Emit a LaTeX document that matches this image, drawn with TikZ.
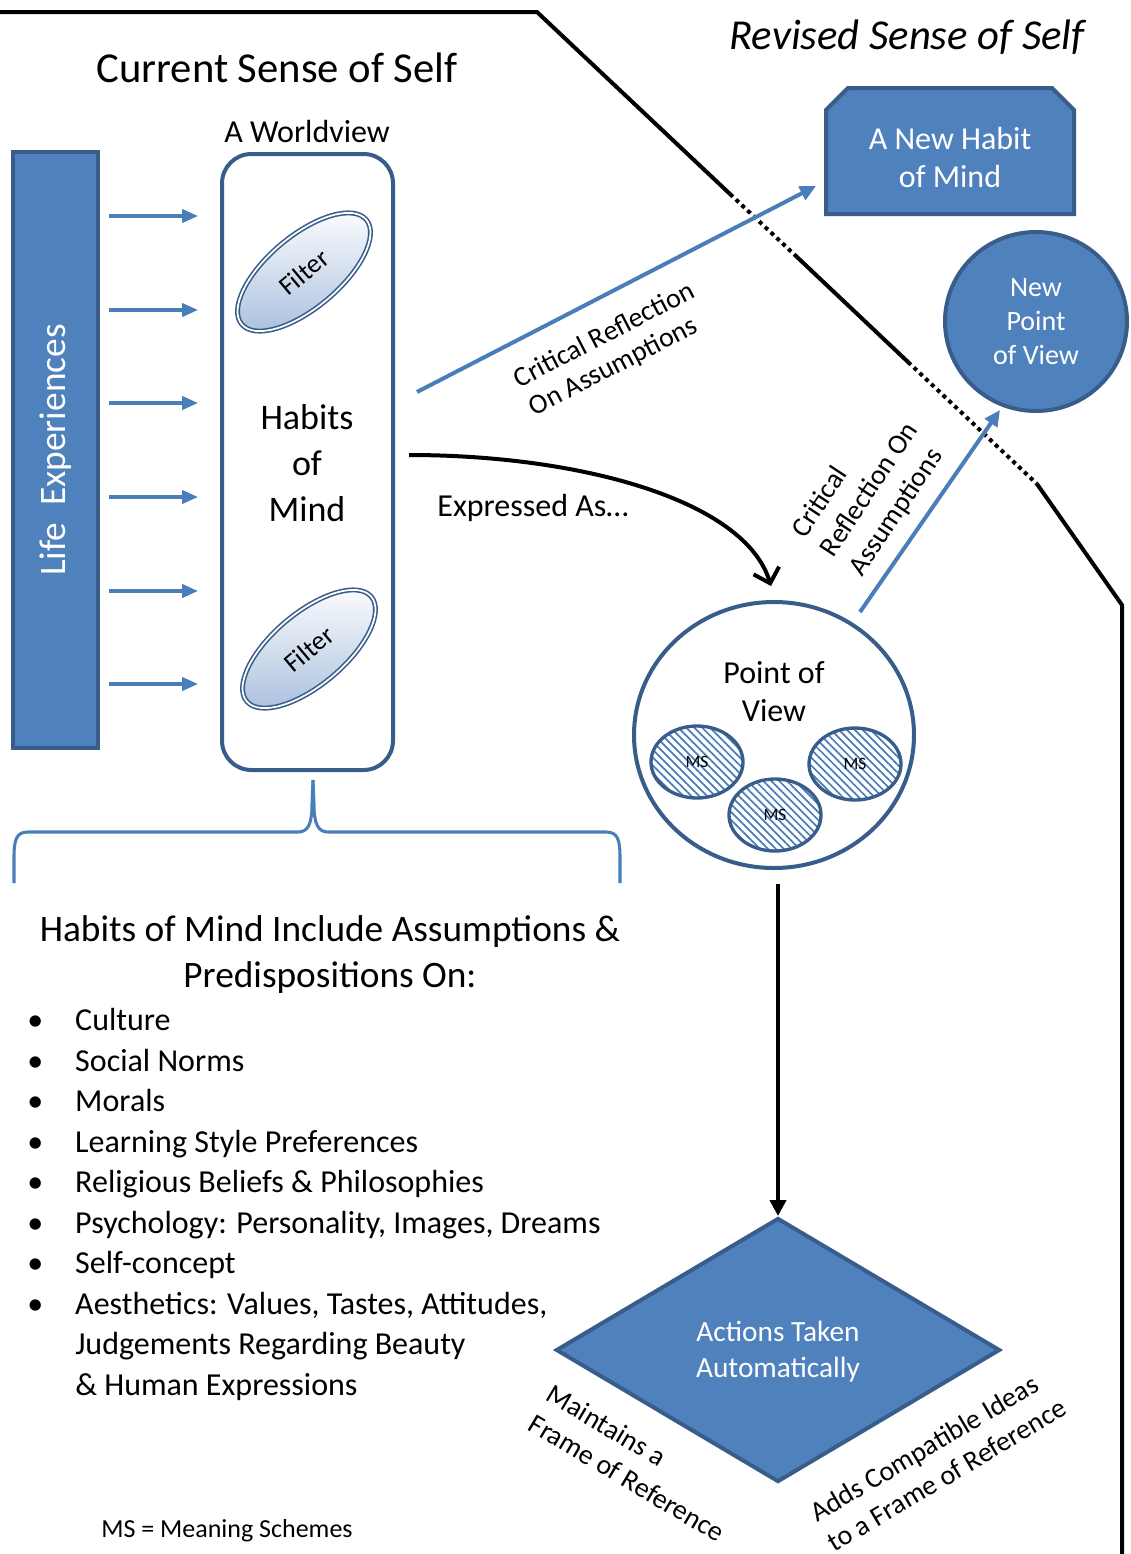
\documentclass[tikz,border=0pt]{standalone}
\usepackage{fontspec}
\setmainfont{Carlito}
\usetikzlibrary{arrows.meta,calc,shapes.geometric,patterns.meta}
\definecolor{fillb}{HTML}{4F81BD}
\definecolor{edgeb}{HTML}{385D8A}
\definecolor{lineb}{HTML}{4A7EBB}
\definecolor{filterb}{HTML}{AEC3E0}
\newcommand\fs[2]{\fontsize{#1}{#2}\selectfont}

\begin{document}
\begin{tikzpicture}[x=0.75pt,y=-0.75pt,
  blueshape/.style={fill=fillb,draw=edgeb,line width=3pt},
  whiteshape/.style={fill=white,draw=edgeb,line width=3pt},
  bluearrow/.style={draw=lineb,line width=3pt,-{Triangle[length=12pt,width=11pt]}},
  feed/.style={draw=lineb,line width=2.5pt,-{Triangle[length=12pt,width=10pt]}},
  boundary/.style={line width=3pt,black},
  dotline/.style={boundary,dash pattern=on 3pt off 3pt},
  filterlens/.style={ellipse,draw=edgeb,double=white,line width=1.2pt,double distance=1.3pt,
    top color=white,bottom color=filterb,minimum width=122pt,minimum height=54pt,
    inner sep=0pt,rotate=40,font=\fs{20}{24}},
  scheme/.style={ellipse,draw=edgeb,line width=2.5pt,
    pattern={Lines[angle=-45,distance=4.2pt,line width=1.3pt]},pattern color=lineb,
    minimum width=69pt,minimum height=54pt,inner sep=0pt,font=\fs{13}{15}},
  lbl/.style={inner sep=0pt,align=center},
  lbll/.style={inner sep=0pt,align=left},
]
\useasboundingbox (0,0) rectangle (1131,1554);
\fill[white] (0,0) rectangle (1131,1554);

% boundary between the current and the revised sense of self
\coordinate (b0) at (0,12);
\coordinate (b1) at (537,12);
\coordinate (b2) at (730,194);
\coordinate (b3) at (797,257);
\coordinate (b4) at (908,362);
\coordinate (b5) at (1037,484);
\coordinate (b6) at (1122,605);
\coordinate (b7) at (1122,1556);
\draw[boundary] (b0) -- (b1) -- (b2);
\draw[dotline] (b2) -- (b3);
\draw[boundary] (b3) -- (b4);
\draw[dotline] (b4) -- (b5);
\draw[boundary] (b5) -- (b6) -- (b7);

% titles
\node[lbl,font=\fs{32}{38}] (cur) at (277,68) {Current Sense of Self};
\node[lbl,font=\fs{32}{38}\itshape] (rev) at (907,37) {Revised Sense of Self};
\node[lbl,font=\fs{24}{29}] (wvt) at (307,131) {A Worldview};

% life experiences feeding the worldview
\node[blueshape,minimum width=63.75pt,minimum height=447pt,inner sep=0pt] (life) at (55.5,450) {};
\node[lbl,rotate=90,text=white,font=\fs{28}{34}] (lifet) at (life.center) {Life~~Experiences};

\node[whiteshape,rounded corners=22pt,minimum width=128.25pt,minimum height=462pt,inner sep=0pt] (wv) at (307.5,462) {};

\foreach \yy in {216,310,403,497,591,684}{
  \coordinate (fy) at (0,\yy);
  \draw[feed] ($(life.east |- fy)+(9,0)$) -- ($(wv.west |- fy)+(-22,0)$);
}

\node[filterlens] (f1) at (304,272) {Filter};
\node[filterlens] (f2) at (309,649) {Filter};
\node[lbl,font=\fs{27}{34.5}] (hom) at (307,463) {Habits\\of\\Mind};

% brace under the worldview
\draw[lineb,line width=2.3pt,line cap=butt]
  (14,883) -- (14,858) .. controls (14,840) and (16,832) .. (28,832) -- (298,832)
  .. controls (308,832) and (312,824) .. (312,804) -- (313,780);
\draw[lineb,line width=2.3pt]
  (313,780) -- (314,804) .. controls (314,824) and (318,832) .. (328,832) -- (606,832)
  .. controls (618,832) and (620,840) .. (620,858) -- (620,883);

% habits of mind list
\node[lbl,font=\fs{28}{34}] (hdr) at (330,954.5) {Habits of Mind Include Assumptions \&\\Predispositions On:};
\node[anchor=north west,inner sep=0pt,font=\fs{24}{30.4}] (lst) at (27,1002) {%
\begin{tabular}{@{}l@{}l@{}}
\makebox[36pt][l]{•} & Culture\\
\makebox[36pt][l]{•} & Social Norms\\
\makebox[36pt][l]{•} & Morals\\
\makebox[36pt][l]{•} & Learning Style Preferences\\
\makebox[36pt][l]{•} & Religious Beliefs \& Philosophies\\
\makebox[36pt][l]{•} & Psychology: Personality, Images, Dreams\\
\makebox[36pt][l]{•} & Self-concept\\
\makebox[36pt][l]{•} & Aesthetics: Values, Tastes, Attitudes,\\
 & Judgements Regarding Beauty\\
 & \& Human Expressions
\end{tabular}};

\node[lbl,font=\fs{19.5}{23}] (msk) at (227,1531) {MS = Meaning Schemes};

% point of view with its meaning schemes
\node[whiteshape,ellipse,minimum width=210pt,minimum height=199.5pt,inner sep=0pt] (pov) at (774,735) {};
\node[lbl,font=\fs{24}{29}] (povt) at (774,691.5) {Point of\\View};
\node[scheme] (ms1) at (697,762) {MS};
\node[scheme] (ms2) at (855,764) {MS};
\node[scheme] (ms3) at (775,815) {MS};

% expressed as
\draw[line width=3pt,-{Straight Barb[length=10pt,width=20pt]}]
  ($(wv.east)+(14,-7)$) .. controls (580,455) and (745,500) .. ($(pov.north)+(-3,-14)$);
\node[lbl,font=\fs{24}{29}] (expr) at (533,508) {Expressed As…};

% actions taken automatically
\node[blueshape,diamond,minimum width=333pt,minimum height=198pt,inner sep=0pt] (dia) at (778,1350) {};
\node[lbl,text=white,font=\fs{22}{27}] (diat) at (778,1352) {Actions Taken\\Automatically};
\draw[line width=3pt,-{Triangle[length=12pt,width=12pt]}] ($(pov.south)+(4,14)$) -- (dia.north);

\node[lbll,rotate=-30.7,font=\fs{21}{26}] (keep) at (636,1463) {Maintains a\\Frame of Reference};
\node[lbll,rotate=30.7,font=\fs{21}{26}] (adds) at (938,1460) {Adds Compatible Ideas\\to a Frame of Reference};

% revised sense of self
\draw[blueshape] (826,214) -- (826,110) -- (848,88) -- (1052,88) -- (1074,110) -- (1074,214) -- cycle;
\node[lbl,text=white,font=\fs{24}{29}] (nh) at (950,157.5) {A New Habit\\of Mind};
\node[blueshape,ellipse,minimum width=136.5pt,minimum height=134.25pt,inner sep=0pt,
  text=white,align=center,font=\fs{21}{25.5}] (npv) at (1036,321.5) {New\\Point\\of View};

% critical reflection
\coordinate (cr1s) at (417,392);
\coordinate (cr1e) at (816,186);
\draw[bluearrow] (cr1s) -- (cr1e);
\node[lbll,rotate=27.4,font=\fs{21}{24}] (cr1) at (612,350) {Critical Reflection\\On Assumptions};

\coordinate (cr2s) at (860,612);
\coordinate (cr2e) at (1000,410);
\draw[bluearrow] (cr2s) -- (cr2e);
\node[lbll,rotate=56.6,font=\fs{21}{26}] (cr2) at (870,490) {Critical\\Reflection On\\Assumptions};
\end{tikzpicture}
\end{document}
